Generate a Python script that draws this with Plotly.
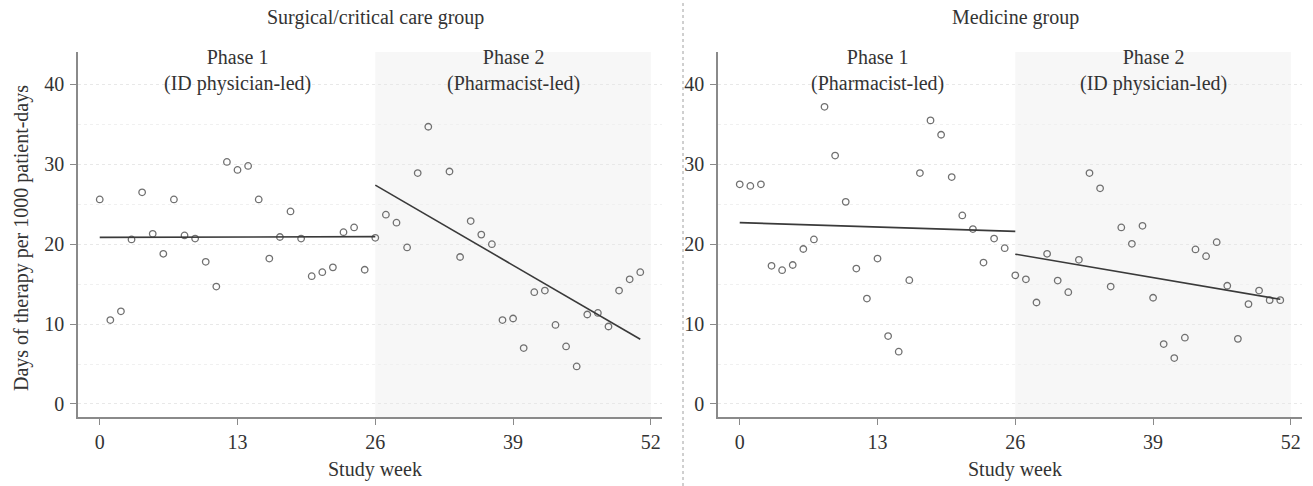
import plotly.graph_objects as go

# ---- data ----
surg_weeks = [0, 1, 2, 3, 4, 5, 6, 7, 8, 9, 10, 11, 12, 13, 14, 15, 16, 17, 18, 19, 20, 21, 22, 23, 24, 25, 26,
              27, 28, 29, 30, 31, 33, 34, 35, 36, 37, 38, 39, 40, 41, 42, 43, 44, 45, 46, 47, 48, 49, 50, 51]
surg_dot = [25.6, 10.5, 11.6, 20.6, 26.5, 21.3, 18.8, 25.6, 21.1, 20.7, 17.8, 14.7, 30.3, 29.3, 29.8, 25.6, 18.2,
            20.9, 24.1, 20.7, 16.0, 16.5, 17.1, 21.5, 22.1, 16.8, 20.8,
            23.7, 22.7, 19.6, 28.9, 34.7, 29.1, 18.4, 22.9, 21.2, 20.0, 10.5, 10.7, 7.0, 14.0, 14.2, 9.9, 7.2, 4.7,
            11.2, 11.4, 9.7, 14.2, 15.6, 16.5]
surg_fit1_x = [0, 26]
surg_fit1_y = [20.85, 20.95]
surg_fit2_x = [26, 51]
surg_fit2_y = [27.4, 8.1]

med_weeks = [0, 1, 2, 3, 4, 5, 6, 7, 8, 9, 10, 11, 12, 13, 14, 15, 16, 17, 18, 19, 20, 21, 22, 23, 24, 25,
             26, 27, 28, 29, 30, 31, 32, 33, 34, 35, 36, 37, 38, 39, 40, 41, 42, 43, 44, 45, 46, 47, 48, 49, 50, 51]
med_dot = [27.5, 27.3, 27.5, 17.3, 16.75, 17.4, 19.4, 20.6, 37.2, 31.1, 25.3, 16.95, 13.2, 18.2, 8.5, 6.55, 15.5,
           28.9, 35.5, 33.7, 28.4, 23.6, 21.9, 17.7, 20.7, 19.5,
           16.1, 15.6, 12.7, 18.8, 15.45, 14.0, 18.05, 28.9, 27.0, 14.7, 22.1, 20.05, 22.3, 13.3, 7.5, 5.75, 8.3,
           19.35, 18.5, 20.25, 14.8, 8.15, 12.5, 14.2, 13.0, 13.0]
med_fit1_x = [0, 26]
med_fit1_y = [22.7, 21.6]
med_fit2_x = [26, 51]
med_fit2_y = [18.75, 13.1]

x_ticks = [0, 13, 26, 39, 52]
y_ticks = [0, 10, 20, 30, 40]
phase_shade = [26, 52]

panel_titles = ["Surgical/critical care group", "Medicine group"]
phase_labels = [["Phase 1<br>(ID physician-led)", "Phase 2<br>(Pharmacist-led)"],
                ["Phase 1<br>(Pharmacist-led)", "Phase 2<br>(ID physician-led)"]]

# ---- layout geometry ----
W, H = 1313, 486
FONT = "Liberation Serif"
TXT = "#333333"
FS = 20

def px_x(p):
    return p / W

def px_y(p):
    return 1 - p / H

x_dom = [[px_x(78), px_x(662)], [px_x(718), px_x(1302)]]
y_dom = [px_y(417), px_y(52)]
xr = [-2.05, 53.05]
yr = [-1.63, 44.06]

fig = go.Figure()

panels = [
    (surg_weeks, surg_dot, (surg_fit1_x, surg_fit1_y), (surg_fit2_x, surg_fit2_y)),
    (med_weeks, med_dot, (med_fit1_x, med_fit1_y), (med_fit2_x, med_fit2_y)),
]

for i, (wk, val, f1, f2) in enumerate(panels):
    xa = "x" if i == 0 else "x2"
    ya = "y" if i == 0 else "y2"
    fig.add_trace(go.Scatter(x=wk, y=val, mode="markers", xaxis=xa, yaxis=ya,
                             marker=dict(symbol="circle-open", size=6.5, color="#707070",
                                         line=dict(width=1.3, color="#707070")),
                             showlegend=False, hoverinfo="x+y"))
    for fx, fy in (f1, f2):
        fig.add_trace(go.Scatter(x=fx, y=fy, mode="lines", xaxis=xa, yaxis=ya,
                                 line=dict(color="#3a3a3a", width=1.6),
                                 showlegend=False, hoverinfo="skip"))
    # shading for phase 2
    fig.add_shape(type="rect", xref=xa, yref=ya + " domain",
                  x0=phase_shade[0], x1=phase_shade[1], y0=0, y1=1,
                  fillcolor="#f7f7f7", line=dict(width=0), layer="below")
    # phase labels
    for j, lab in enumerate(phase_labels[i]):
        fig.add_annotation(x=[13, 39][j], y=px_y(70), xref=xa, yref="paper",
                           text=lab, showarrow=False, xanchor="center", yanchor="middle",
                           font=dict(family=FONT, size=FS, color=TXT))
    # panel title
    fig.add_annotation(x=26, y=px_y(17), xref=xa, yref="paper", text=panel_titles[i],
                       showarrow=False, xanchor="center", yanchor="middle",
                       font=dict(family=FONT, size=FS, color=TXT))
    # x axis title
    fig.add_annotation(x=26, y=px_y(469), xref=xa, yref="paper", text="Study week",
                       showarrow=False, xanchor="center", yanchor="middle",
                       font=dict(family=FONT, size=FS, color=TXT))

axis_common = dict(showline=True, linecolor="#8a8a8a", linewidth=1.5, ticks="outside",
                   ticklen=6, tickwidth=1.2, tickcolor="#8a8a8a", zeroline=False,
                   tickfont=dict(family=FONT, size=FS, color=TXT))

for i in range(2):
    sx = "" if i == 0 else "2"
    fig.update_layout(**{
        "xaxis" + sx: dict(domain=x_dom[i], range=xr, tickvals=x_ticks, showgrid=False,
                           anchor="y" + sx, **axis_common),
        "yaxis" + sx: dict(domain=y_dom, range=yr, tickvals=y_ticks, anchor="x" + sx,
                           showgrid=True, gridcolor="#e8e8e8", griddash="dot", gridwidth=1,
                           minor=dict(dtick=5, tick0=0, showgrid=True, gridcolor="#f0f0f0",
                                      gridwidth=1, ticks=""),
                           ticklabelstandoff=2, **axis_common),
    })

# y axis title
fig.add_annotation(x=px_x(21), y=px_y(238), xref="paper", yref="paper",
                   text="Days of therapy per 1000 patient-days", textangle=-90,
                   xanchor="center", yanchor="middle",
                   showarrow=False, font=dict(family=FONT, size=FS, color=TXT))

# separator between panels
fig.add_shape(type="line", xref="paper", yref="paper", x0=px_x(683), x1=px_x(683), y0=0, y1=1,
              line=dict(color="#a0a0a0", width=1, dash="dot"))

fig.update_layout(width=W, height=H, margin=dict(l=0, r=0, t=0, b=0),
                  paper_bgcolor="white", plot_bgcolor="white")

fig.write_html("out.html")
